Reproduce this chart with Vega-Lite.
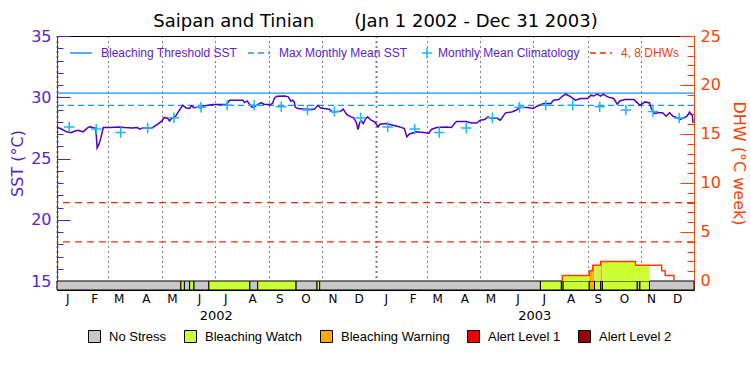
{
  "$schema": "https://vega.github.io/schema/vega-lite/v6.json",
  "width": 637,
  "height": 254,
  "autosize": "none",
  "padding": {"left": 57, "top": 36, "right": 56, "bottom": 85},
  "background": "white",
  "config": {"view": {"stroke": "black", "strokeWidth": 1}},
  "title": {"text": "Saipan and Tinian\u00a0\u00a0\u00a0\u00a0\u00a0\u00a0\u00a0(Jan 1 2002 - Dec 31 2003)", "anchor": "middle", "font": "DejaVu Sans", "fontSize": 18, "fontWeight": "normal", "color": "black", "offset": -3},
  "datasets": {
    "sst": [
      {"date": "2002-01-01", "sst": 27.53}, {"date": "2002-01-05", "sst": 27.45}, {"date": "2002-01-12", "sst": 27.18}, {"date": "2002-01-17", "sst": 27.10},
      {"date": "2002-01-21", "sst": 27.23}, {"date": "2002-01-25", "sst": 27.30}, {"date": "2002-01-31", "sst": 27.18}, {"date": "2002-02-05", "sst": 27.50},
      {"date": "2002-02-08", "sst": 27.60}, {"date": "2002-02-12", "sst": 27.50}, {"date": "2002-02-14", "sst": 27.50}, {"date": "2002-02-15", "sst": 26.90},
      {"date": "2002-02-16", "sst": 25.87}, {"date": "2002-02-18", "sst": 26.15}, {"date": "2002-02-20", "sst": 26.60}, {"date": "2002-02-23", "sst": 27.53},
      {"date": "2002-03-02", "sst": 27.53}, {"date": "2002-03-13", "sst": 27.58}, {"date": "2002-03-19", "sst": 27.53}, {"date": "2002-03-28", "sst": 27.50},
      {"date": "2002-04-03", "sst": 27.53}, {"date": "2002-04-06", "sst": 27.40}, {"date": "2002-04-09", "sst": 27.50}, {"date": "2002-04-15", "sst": 27.50},
      {"date": "2002-04-20", "sst": 27.50}, {"date": "2002-04-26", "sst": 27.78}, {"date": "2002-05-01", "sst": 28.05}, {"date": "2002-05-04", "sst": 28.35},
      {"date": "2002-05-08", "sst": 28.27}, {"date": "2002-05-10", "sst": 28.07}, {"date": "2002-05-13", "sst": 28.32}, {"date": "2002-05-17", "sst": 28.45},
      {"date": "2002-05-20", "sst": 28.80}, {"date": "2002-05-25", "sst": 29.35}, {"date": "2002-05-29", "sst": 29.13}, {"date": "2002-06-02", "sst": 29.08},
      {"date": "2002-06-04", "sst": 29.30}, {"date": "2002-06-07", "sst": 29.15}, {"date": "2002-06-12", "sst": 29.20}, {"date": "2002-06-15", "sst": 29.08},
      {"date": "2002-06-18", "sst": 29.30}, {"date": "2002-06-23", "sst": 29.35}, {"date": "2002-06-29", "sst": 29.40}, {"date": "2002-07-06", "sst": 29.40},
      {"date": "2002-07-14", "sst": 29.40}, {"date": "2002-07-18", "sst": 29.76}, {"date": "2002-07-27", "sst": 29.76}, {"date": "2002-08-02", "sst": 29.76},
      {"date": "2002-08-04", "sst": 29.57}, {"date": "2002-08-07", "sst": 29.70}, {"date": "2002-08-10", "sst": 29.40}, {"date": "2002-08-12", "sst": 29.20},
      {"date": "2002-08-15", "sst": 29.20}, {"date": "2002-08-19", "sst": 29.40}, {"date": "2002-08-23", "sst": 29.57}, {"date": "2002-08-26", "sst": 29.43},
      {"date": "2002-09-02", "sst": 29.40}, {"date": "2002-09-05", "sst": 29.50}, {"date": "2002-09-07", "sst": 29.90}, {"date": "2002-09-10", "sst": 30.08},
      {"date": "2002-09-19", "sst": 30.10}, {"date": "2002-09-23", "sst": 30.03}, {"date": "2002-09-26", "sst": 29.68}, {"date": "2002-09-28", "sst": 29.76},
      {"date": "2002-09-30", "sst": 29.62}, {"date": "2002-10-01", "sst": 29.20}, {"date": "2002-10-04", "sst": 29.08}, {"date": "2002-10-12", "sst": 29.03},
      {"date": "2002-10-23", "sst": 29.03}, {"date": "2002-10-27", "sst": 29.35}, {"date": "2002-10-30", "sst": 29.13}, {"date": "2002-11-09", "sst": 29.03},
      {"date": "2002-11-13", "sst": 28.80}, {"date": "2002-11-22", "sst": 28.86}, {"date": "2002-11-25", "sst": 29.03}, {"date": "2002-11-29", "sst": 28.60},
      {"date": "2002-12-04", "sst": 28.40}, {"date": "2002-12-07", "sst": 28.32}, {"date": "2002-12-10", "sst": 27.94}, {"date": "2002-12-12", "sst": 27.37},
      {"date": "2002-12-14", "sst": 27.94}, {"date": "2002-12-16", "sst": 28.05}, {"date": "2002-12-18", "sst": 27.86}, {"date": "2002-12-21", "sst": 28.27},
      {"date": "2002-12-23", "sst": 28.40}, {"date": "2002-12-27", "sst": 28.13}, {"date": "2002-12-31", "sst": 28.00}, {"date": "2003-01-04", "sst": 27.58},
      {"date": "2003-01-06", "sst": 27.80}, {"date": "2003-01-13", "sst": 27.86}, {"date": "2003-01-21", "sst": 27.72}, {"date": "2003-01-29", "sst": 27.58},
      {"date": "2003-02-03", "sst": 27.45}, {"date": "2003-02-06", "sst": 26.77}, {"date": "2003-02-09", "sst": 27.00}, {"date": "2003-02-17", "sst": 27.18},
      {"date": "2003-02-28", "sst": 27.10}, {"date": "2003-03-03", "sst": 27.05}, {"date": "2003-03-06", "sst": 27.37}, {"date": "2003-03-12", "sst": 27.53},
      {"date": "2003-03-23", "sst": 27.58}, {"date": "2003-03-29", "sst": 27.53}, {"date": "2003-04-02", "sst": 27.90}, {"date": "2003-04-04", "sst": 28.02},
      {"date": "2003-04-15", "sst": 28.02}, {"date": "2003-04-21", "sst": 27.90}, {"date": "2003-04-27", "sst": 27.90}, {"date": "2003-05-01", "sst": 28.13},
      {"date": "2003-05-06", "sst": 28.19}, {"date": "2003-05-10", "sst": 28.40}, {"date": "2003-05-14", "sst": 28.27}, {"date": "2003-05-20", "sst": 28.30},
      {"date": "2003-05-24", "sst": 28.13}, {"date": "2003-05-30", "sst": 28.73}, {"date": "2003-06-06", "sst": 28.80}, {"date": "2003-06-11", "sst": 28.94},
      {"date": "2003-06-16", "sst": 29.16}, {"date": "2003-06-24", "sst": 29.16}, {"date": "2003-07-01", "sst": 29.08}, {"date": "2003-07-05", "sst": 29.27},
      {"date": "2003-07-13", "sst": 29.50}, {"date": "2003-07-21", "sst": 29.50}, {"date": "2003-07-24", "sst": 29.76}, {"date": "2003-07-30", "sst": 29.82},
      {"date": "2003-08-03", "sst": 30.08}, {"date": "2003-08-07", "sst": 30.25}, {"date": "2003-08-12", "sst": 30.08}, {"date": "2003-08-18", "sst": 29.76},
      {"date": "2003-08-24", "sst": 29.90}, {"date": "2003-09-01", "sst": 29.90}, {"date": "2003-09-05", "sst": 30.17}, {"date": "2003-09-08", "sst": 30.10},
      {"date": "2003-09-12", "sst": 30.25}, {"date": "2003-09-16", "sst": 30.10}, {"date": "2003-09-19", "sst": 30.25}, {"date": "2003-09-24", "sst": 30.03},
      {"date": "2003-10-01", "sst": 29.90}, {"date": "2003-10-05", "sst": 29.43}, {"date": "2003-10-08", "sst": 29.70}, {"date": "2003-10-14", "sst": 29.82},
      {"date": "2003-10-24", "sst": 29.82}, {"date": "2003-10-27", "sst": 29.62}, {"date": "2003-10-31", "sst": 29.35}, {"date": "2003-11-06", "sst": 29.62},
      {"date": "2003-11-11", "sst": 29.54}, {"date": "2003-11-13", "sst": 29.08}, {"date": "2003-11-17", "sst": 28.68}, {"date": "2003-11-21", "sst": 28.73},
      {"date": "2003-11-26", "sst": 28.73}, {"date": "2003-11-30", "sst": 28.45}, {"date": "2003-12-04", "sst": 28.73}, {"date": "2003-12-08", "sst": 28.45},
      {"date": "2003-12-12", "sst": 28.35}, {"date": "2003-12-16", "sst": 28.19}, {"date": "2003-12-20", "sst": 28.30}, {"date": "2003-12-24", "sst": 28.45},
      {"date": "2003-12-27", "sst": 28.80}, {"date": "2003-12-30", "sst": 28.53}, {"date": "2003-12-31", "sst": 27.90}
    ],
    "clim": [
      {"date": "2002-01-15", "sst": 27.58}, {"date": "2002-02-15", "sst": 27.40}, {"date": "2002-03-15", "sst": 27.12}, {"date": "2002-04-15", "sst": 27.50},
      {"date": "2002-05-15", "sst": 28.33}, {"date": "2002-06-15", "sst": 29.18}, {"date": "2002-07-15", "sst": 29.35}, {"date": "2002-08-15", "sst": 29.35},
      {"date": "2002-09-15", "sst": 29.23}, {"date": "2002-10-15", "sst": 28.97}, {"date": "2002-11-15", "sst": 28.84}, {"date": "2002-12-15", "sst": 28.30},
      {"date": "2003-01-15", "sst": 27.58}, {"date": "2003-02-15", "sst": 27.40}, {"date": "2003-03-15", "sst": 27.12}, {"date": "2003-04-15", "sst": 27.50},
      {"date": "2003-05-15", "sst": 28.33}, {"date": "2003-06-15", "sst": 29.18}, {"date": "2003-07-15", "sst": 29.35}, {"date": "2003-08-15", "sst": 29.35},
      {"date": "2003-09-15", "sst": 29.23}, {"date": "2003-10-15", "sst": 28.97}, {"date": "2003-11-15", "sst": 28.84}, {"date": "2003-12-15", "sst": 28.30}
    ],
    "ref": [
      {"series": "Bleaching Threshold SST", "sst": 30.33},
      {"series": "Max Monthly Mean SST", "sst": 29.33}
    ],
    "dhwref": [
      {"series": "4, 8 DHWs", "dhw": 4},
      {"series": "4, 8 DHWs", "dhw": 8}
    ],
    "stress": [
      {"start": "2002-01-01", "end": "2002-05-23", "stress": "No Stress"},
      {"start": "2002-05-23", "end": "2002-05-27", "stress": "Bleaching Watch"},
      {"start": "2002-05-27", "end": "2002-06-02", "stress": "No Stress"},
      {"start": "2002-06-02", "end": "2002-06-07", "stress": "Bleaching Watch"},
      {"start": "2002-06-07", "end": "2002-06-24", "stress": "No Stress"},
      {"start": "2002-06-24", "end": "2002-08-10", "stress": "Bleaching Watch"},
      {"start": "2002-08-10", "end": "2002-08-19", "stress": "No Stress"},
      {"start": "2002-08-19", "end": "2002-10-02", "stress": "Bleaching Watch"},
      {"start": "2002-10-02", "end": "2002-10-26", "stress": "No Stress"},
      {"start": "2002-10-26", "end": "2002-10-29", "stress": "Bleaching Watch"},
      {"start": "2002-10-29", "end": "2003-07-09", "stress": "No Stress"},
      {"start": "2003-07-09", "end": "2003-08-02", "stress": "Bleaching Watch"},
      {"start": "2003-08-02", "end": "2003-08-04", "stress": "Bleaching Watch"},
      {"start": "2003-08-04", "end": "2003-09-03", "stress": "Bleaching Watch"},
      {"start": "2003-09-03", "end": "2003-09-09", "stress": "Bleaching Warning"},
      {"start": "2003-09-09", "end": "2003-09-16", "stress": "Bleaching Watch"},
      {"start": "2003-09-16", "end": "2003-09-18", "stress": "Bleaching Warning"},
      {"start": "2003-09-18", "end": "2003-10-28", "stress": "Bleaching Watch"},
      {"start": "2003-10-28", "end": "2003-10-31", "stress": "No Stress"},
      {"start": "2003-10-31", "end": "2003-11-11", "stress": "Bleaching Watch"},
      {"start": "2003-11-11", "end": "2004-01-01", "stress": "No Stress"}
    ],
    "dhwfill": [
      {"start": "2003-08-03", "end": "2003-09-03", "dhw": 0.55, "stress": "Bleaching Watch"},
      {"start": "2003-09-03", "end": "2003-09-07", "dhw": 1.05, "stress": "Bleaching Warning"},
      {"start": "2003-09-07", "end": "2003-09-09", "dhw": 1.6, "stress": "Bleaching Warning"},
      {"start": "2003-09-09", "end": "2003-09-16", "dhw": 1.6, "stress": "Bleaching Watch"},
      {"start": "2003-09-16", "end": "2003-09-18", "dhw": 2.0, "stress": "Bleaching Warning"},
      {"start": "2003-09-18", "end": "2003-10-26", "dhw": 2.0, "stress": "Bleaching Watch"},
      {"start": "2003-10-26", "end": "2003-11-11", "dhw": 1.6, "stress": "Bleaching Watch"}
    ],
    "dhw": [
      {"date": "2003-08-02", "dhw": 0},
      {"date": "2003-08-03", "dhw": 0.55},
      {"date": "2003-09-03", "dhw": 1.05},
      {"date": "2003-09-07", "dhw": 1.6},
      {"date": "2003-09-16", "dhw": 2.0},
      {"date": "2003-10-26", "dhw": 1.6},
      {"date": "2003-11-25", "dhw": 1.05},
      {"date": "2003-11-29", "dhw": 0.55},
      {"date": "2003-12-09", "dhw": 0}
    ],
    "years": [
      {"date": "2002-07-02", "year": "2002"},
      {"date": "2003-07-02", "year": "2003"}
    ]
  },
  "resolve": {"scale": {"x": "independent", "y": "independent"}},
  "layer": [
    {
      "resolve": {"axis": {"y": "independent"}},
      "layer": [
        {
          "data": {"name": "ref"},
          "transform": [{"filter": "datum.series === 'Bleaching Threshold SST'"}],
          "mark": {"type": "rule", "strokeWidth": 1.2},
          "encoding": {
            "y": {"field": "sst", "type": "quantitative",
              "scale": {"domain": [14.27, 35], "nice": false, "zero": false},
              "axis": {
                "orient": "left",
                "values": [15, 20, 25, 30, 35],
                "tickSize": -13, "tickColor": "#5a1ed2", "domainColor": "#5a1ed2", "labelColor": "#5a1ed2",
                "labelFont": "DejaVu Sans", "labelFontSize": 16, "labelPadding": 19, "labelOverlap": false,
                "grid": false,
                "title": "SST (°C)", "titleColor": "#5a1ed2", "titleFont": "DejaVu Sans", "titleFontSize": 16, "titleFontWeight": "normal", "titlePadding": 5
              }
            },
            "stroke": {"field": "series", "type": "nominal",
              "scale": {"domain": ["Bleaching Threshold SST", "Max Monthly Mean SST", "Monthly Mean Climatology", "4, 8 DHWs"],
                        "range": ["#1e90ff", "#1e90ff", "#18b8ff", "#ff2a00"]},
              "legend": {
                "orient": "none", "legendX": 12, "legendY": 5, "direction": "horizontal", "title": null,
                "gridAlign": "none", "columnPadding": 7, "symbolSize": 484, "symbolStrokeWidth": 1.5,
                "labelFont": "Liberation Sans", "labelFontSize": 12, "labelOffset": 8, "labelLimit": 300,
                "encode": {
                  "symbols": {"update": {
                    "shape": {"signal": "datum.value === 'Monthly Mean Climatology' ? 'M-1,0L1,0M0,-1L0,1' : 'stroke'"},
                    "size": {"signal": "datum.value === 'Monthly Mean Climatology' ? 110 : 484"},
                    "strokeDash": {"signal": "(datum.value === 'Max Monthly Mean SST' || datum.value === '4, 8 DHWs') ? [6,4] : []"},
                    "fill": {"value": "transparent"},
                    "strokeWidth": {"value": 1.5}
                  }},
                  "labels": {"update": {
                    "fill": {"signal": "datum.value === '4, 8 DHWs' ? '#ff3c00' : '#5a1ed2'"},
                    "dx": {"signal": "datum.value === 'Monthly Mean Climatology' ? -9 : 0"}
                  }}
                }
              }
            }
          }
        },
        {
          "data": {"name": "ref"},
          "transform": [{"filter": "datum.series === 'Max Monthly Mean SST'"}],
          "mark": {"type": "rule", "strokeWidth": 1.2, "strokeDash": [6, 4]},
          "encoding": {
            "y": {"field": "sst", "type": "quantitative",
              "axis": {
                "orient": "left",
                "values": [15,16,17,18,19,20,21,22,23,24,25,26,27,28,29,30,31,32,33,34,35],
                "tickSize": -6, "tickColor": "#5a1ed2", "labels": false, "domain": false, "grid": false, "title": null
              }
            },
            "stroke": {"field": "series", "type": "nominal"}
          }
        },
        {
          "data": {"name": "sst"},
          "mark": {"type": "line", "color": "#5000c8", "strokeWidth": 1.5, "interpolate": "linear"},
          "encoding": {
            "x": {"field": "date", "type": "temporal",
              "scale": {"type": "utc", "domain": [{"year": 2002, "month": 1, "date": 1, "utc": true}, {"year": 2004, "month": 1, "date": 1, "utc": true}], "nice": false},
              "axis": {
                "orient": "bottom",
                "values": [
                  {"year": 2002, "month": 1, "date": 1, "utc": true}, {"year": 2002, "month": 2, "date": 1, "utc": true}, {"year": 2002, "month": 3, "date": 1, "utc": true},
                  {"year": 2002, "month": 4, "date": 1, "utc": true}, {"year": 2002, "month": 5, "date": 1, "utc": true}, {"year": 2002, "month": 6, "date": 1, "utc": true},
                  {"year": 2002, "month": 7, "date": 1, "utc": true}, {"year": 2002, "month": 8, "date": 1, "utc": true}, {"year": 2002, "month": 9, "date": 1, "utc": true},
                  {"year": 2002, "month": 10, "date": 1, "utc": true}, {"year": 2002, "month": 11, "date": 1, "utc": true}, {"year": 2002, "month": 12, "date": 1, "utc": true},
                  {"year": 2003, "month": 1, "date": 1, "utc": true}, {"year": 2003, "month": 2, "date": 1, "utc": true}, {"year": 2003, "month": 3, "date": 1, "utc": true},
                  {"year": 2003, "month": 4, "date": 1, "utc": true}, {"year": 2003, "month": 5, "date": 1, "utc": true}, {"year": 2003, "month": 6, "date": 1, "utc": true},
                  {"year": 2003, "month": 7, "date": 1, "utc": true}, {"year": 2003, "month": 8, "date": 1, "utc": true}, {"year": 2003, "month": 9, "date": 1, "utc": true},
                  {"year": 2003, "month": 10, "date": 1, "utc": true}, {"year": 2003, "month": 11, "date": 1, "utc": true}, {"year": 2003, "month": 12, "date": 1, "utc": true}
                ],
                "labels": false, "ticks": false, "domain": false,
                "grid": true, "gridColor": "black", "gridDash": [1, 4],
                "gridWidth": {"condition": {"test": "utcmonth(datum.value) === 0", "value": 2}, "value": 1},
                "title": null
              }
            },
            "y": {"field": "sst", "type": "quantitative", "axis": null}
          }
        },
        {
          "data": {"name": "clim"},
          "transform": [{"calculate": "'Monthly Mean Climatology'", "as": "series"}],
          "mark": {"type": "point", "shape": "M-1,0L1,0M0,-1L0,1", "size": 110, "filled": false, "strokeWidth": 1.5, "opacity": 1},
          "encoding": {
            "x": {"field": "date", "type": "temporal"},
            "y": {"field": "sst", "type": "quantitative", "axis": null},
            "stroke": {"field": "series", "type": "nominal"}
          }
        }
      ]
    },
    {
      "resolve": {"axis": {"y": "independent"}},
      "layer": [
        {
          "data": {"name": "dhwref"},
          "mark": {"type": "rule", "strokeWidth": 1.2, "strokeDash": [7, 5]},
          "encoding": {
            "y": {"field": "dhw", "type": "quantitative",
              "scale": {"domain": [-0.92, 25], "nice": false, "zero": false},
              "axis": {
                "orient": "right",
                "values": [0, 5, 10, 15, 20, 25],
                "tickSize": -14, "tickColor": "#ff4000", "domainColor": "#ff4000", "labelColor": "#ff4000",
                "labelFont": "DejaVu Sans", "labelFontSize": 16, "labelPadding": 20, "labelOverlap": false,
                "grid": false,
                "title": "DHW (°C week)", "titleColor": "#ff4000", "titleFont": "DejaVu Sans", "titleFontSize": 16, "titleFontWeight": "normal", "titlePadding": 10
              }
            },
            "stroke": {"field": "series", "type": "nominal"}
          }
        },
        {
          "data": {"name": "stress"},
          "mark": {"type": "rect", "stroke": "black", "strokeWidth": 1},
          "encoding": {
            "x": {"field": "start", "type": "temporal",
              "scale": {"type": "utc", "domain": [{"year": 2002, "month": 1, "date": 1, "utc": true}, {"year": 2004, "month": 1, "date": 1, "utc": true}], "nice": false},
              "axis": {
                "orient": "bottom",
                "values": [
                  {"year": 2002, "month": 1, "date": 15, "utc": true}, {"year": 2002, "month": 3, "date": 15, "utc": true}, {"year": 2002, "month": 5, "date": 15, "utc": true},
                  {"year": 2002, "month": 7, "date": 15, "utc": true}, {"year": 2002, "month": 9, "date": 15, "utc": true}, {"year": 2002, "month": 11, "date": 15, "utc": true},
                  {"year": 2003, "month": 1, "date": 15, "utc": true}, {"year": 2003, "month": 3, "date": 15, "utc": true}, {"year": 2003, "month": 5, "date": 15, "utc": true},
                  {"year": 2003, "month": 7, "date": 15, "utc": true}, {"year": 2003, "month": 9, "date": 15, "utc": true}, {"year": 2003, "month": 11, "date": 15, "utc": true}
                ],
                "labelExpr": "slice(utcFormat(datum.value, '%b'), 0, 1)",
                "labelFlush": false, "labelOverlap": false, "labelOffset": -2,
                "ticks": false, "domain": false, "grid": false,
                "labelFont": "DejaVu Sans", "labelFontSize": 12, "labelColor": "black", "labelPadding": 3,
                "title": null
              }
            },
            "x2": {"field": "end"},
            "y": {"datum": 0, "type": "quantitative", "axis": null},
            "y2": {"datum": -0.92},
            "fill": {"field": "stress", "type": "nominal",
              "scale": {"domain": ["No Stress", "Bleaching Watch", "Bleaching Warning", "Alert Level 1", "Alert Level 2"],
                        "range": ["#c8c8c8", "#ccff33", "#ffaa00", "#ee0000", "#960000"]},
              "legend": {
                "orient": "none", "legendX": 31, "legendY": 294, "direction": "horizontal", "title": null,
                "gridAlign": "none", "columnPadding": 15, "symbolType": "square", "symbolSize": 144,
                "symbolStrokeColor": "black", "symbolStrokeWidth": 1,
                "labelFont": "Liberation Sans", "labelFontSize": 13, "labelColor": "black", "labelOffset": 8, "labelLimit": 300,
                "encode": {"symbols": {"update": {"stroke": {"value": "black"}, "strokeWidth": {"value": 1}, "opacity": {"value": 1}}}}
              }
            }
          }
        },
        {
          "data": {"name": "dhwfill"},
          "mark": {"type": "rect"},
          "encoding": {
            "x": {"field": "start", "type": "temporal"},
            "x2": {"field": "end"},
            "y": {"field": "dhw", "type": "quantitative", "axis": null},
            "y2": {"datum": 0},
            "fill": {"field": "stress", "type": "nominal"}
          }
        },
        {
          "data": {"name": "dhw"},
          "mark": {"type": "line", "color": "#ff3c00", "strokeWidth": 1.5, "interpolate": "step-after"},
          "encoding": {
            "x": {"field": "date", "type": "temporal"},
            "y": {"field": "dhw", "type": "quantitative",
              "axis": {
                "orient": "right",
                "values": [0,1,2,3,4,5,6,7,8,9,10,11,12,13,14,15,16,17,18,19,20,21,22,23,24,25],
                "tickSize": -7, "tickColor": "#ff4000", "labels": false, "domain": false, "grid": false, "title": null
              }
            }
          }
        }
      ]
    },
    {
      "data": {"name": "years"},
      "mark": {"type": "rule", "opacity": 0},
      "encoding": {
        "x": {"field": "date", "type": "temporal",
          "scale": {"type": "utc", "domain": [{"year": 2002, "month": 1, "date": 1, "utc": true}, {"year": 2004, "month": 1, "date": 1, "utc": true}], "nice": false},
          "axis": {
            "orient": "bottom", "offset": 17,
            "values": [{"year": 2002, "month": 7, "date": 2, "utc": true}, {"year": 2003, "month": 7, "date": 2, "utc": true}],
            "labelExpr": "utcFormat(datum.value, '%Y')",
            "ticks": false, "domain": false, "grid": false,
            "labelFont": "DejaVu Sans", "labelFontSize": 13, "labelColor": "black", "labelPadding": 2,
            "title": null
          }
        }
      }
    },
    {
      "data": {"name": "years"},
      "mark": {"type": "rule", "opacity": 0},
      "encoding": {
        "x": {"field": "date", "type": "temporal",
          "scale": {"type": "utc", "domain": [{"year": 2002, "month": 1, "date": 1, "utc": true}, {"year": 2004, "month": 1, "date": 1, "utc": true}], "nice": false},
          "axis": {
            "orient": "bottom",
            "values": [
              {"year": 2002, "month": 2, "date": 15, "utc": true}, {"year": 2002, "month": 4, "date": 15, "utc": true}, {"year": 2002, "month": 6, "date": 15, "utc": true},
              {"year": 2002, "month": 8, "date": 15, "utc": true}, {"year": 2002, "month": 10, "date": 15, "utc": true}, {"year": 2002, "month": 12, "date": 15, "utc": true},
              {"year": 2003, "month": 2, "date": 15, "utc": true}, {"year": 2003, "month": 4, "date": 15, "utc": true}, {"year": 2003, "month": 6, "date": 15, "utc": true},
              {"year": 2003, "month": 8, "date": 15, "utc": true}, {"year": 2003, "month": 10, "date": 15, "utc": true}, {"year": 2003, "month": 12, "date": 15, "utc": true}
            ],
            "labelExpr": "slice(utcFormat(datum.value, '%b'), 0, 1)",
            "labelFlush": false, "labelOverlap": false, "labelOffset": -2,
            "ticks": false, "domain": false, "grid": false,
            "labelFont": "DejaVu Sans", "labelFontSize": 12, "labelColor": "black", "labelPadding": 3,
            "title": null
          }
        }
      }
    }
  ]
}
